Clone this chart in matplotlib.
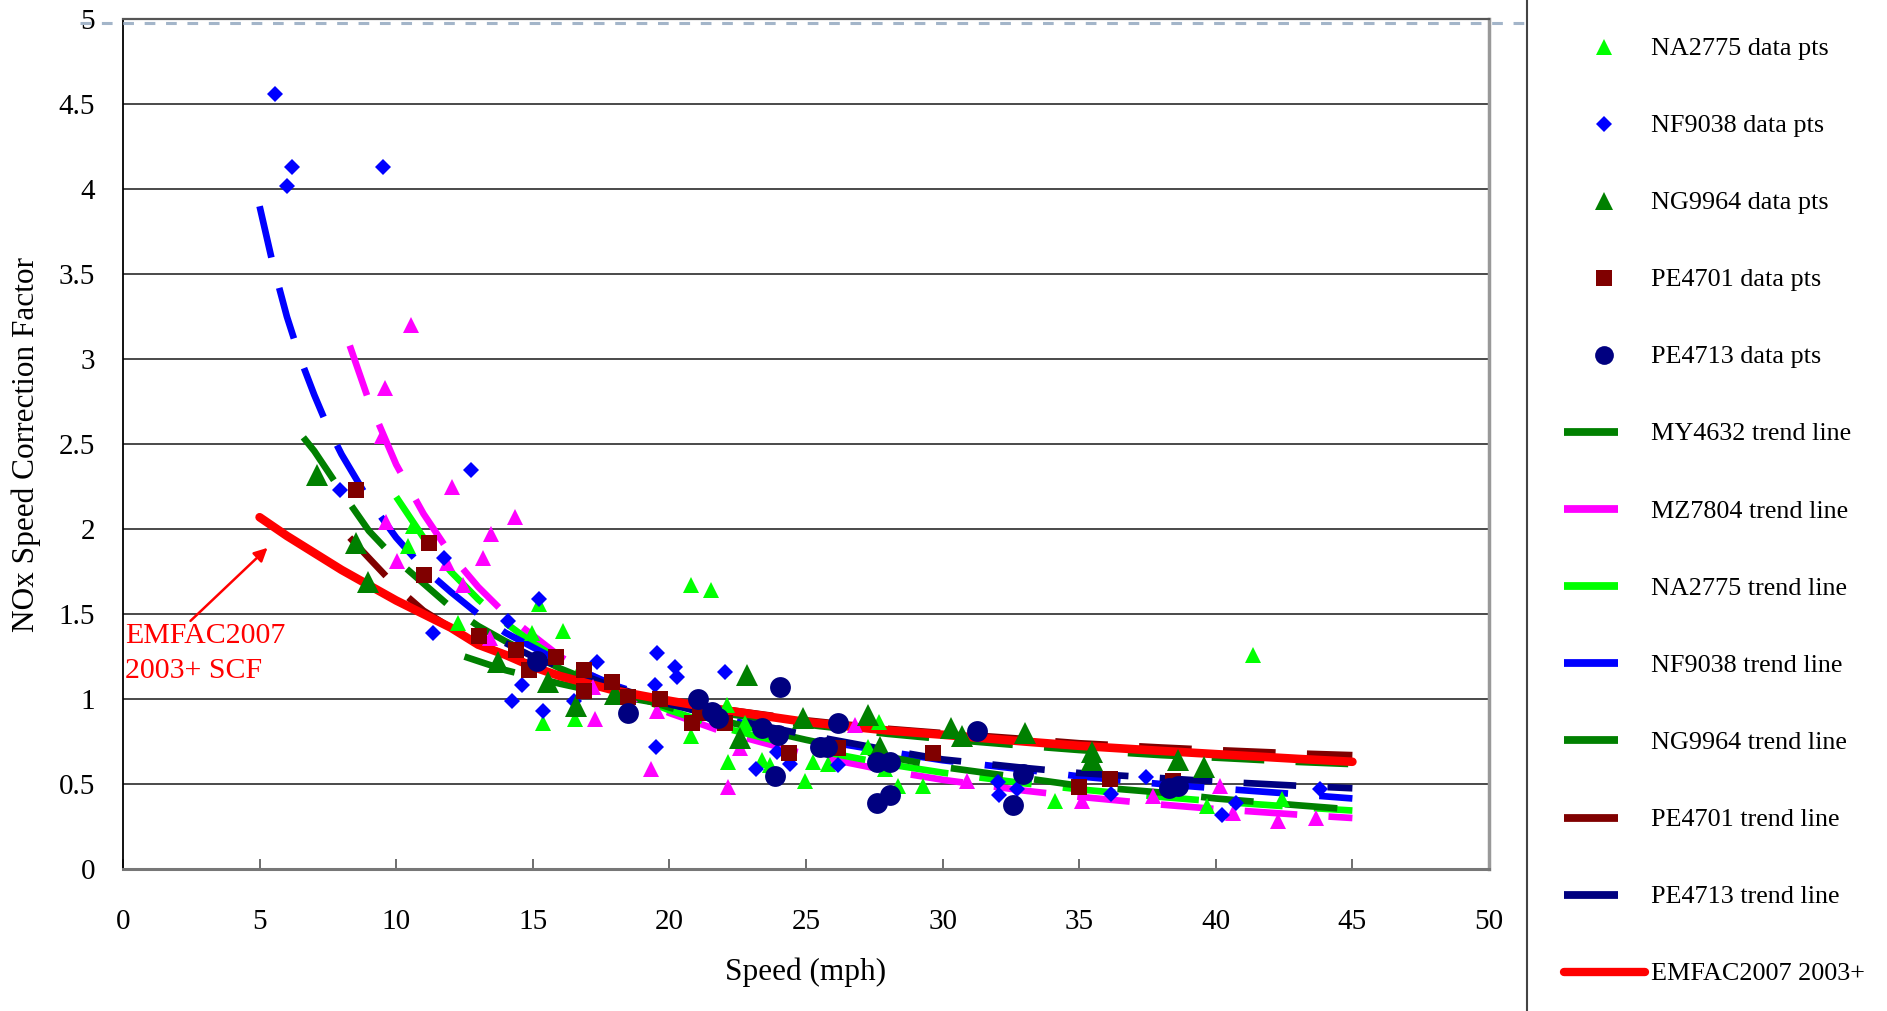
import matplotlib
matplotlib.use("Agg")
import matplotlib.pyplot as plt
from matplotlib.lines import Line2D

plt.rcParams['font.family'] = ['Liberation Serif', 'DejaVu Serif']

# ---------------- data ----------------
na2775_x = [10.44, 10.6, 12.27, 14.96, 15.24, 15.38, 16.1, 16.54, 20.78, 20.78, 21.52, 22.1, 22.16,
            22.77, 23.38, 23.68, 24.96, 25.27, 25.82, 27.26, 27.68, 27.9, 28.35, 29.27, 34.11,
            39.67, 41.35, 42.41]
na2775_y = [1.90, 2.02, 1.445, 1.39, 1.56, 0.86, 1.40, 0.88, 1.67, 0.78, 1.64, 0.965, 0.63,
            0.857, 0.64, 0.61, 0.52, 0.63, 0.62, 0.72, 0.867, 0.59, 0.49, 0.49, 0.40,
            0.37, 1.26, 0.41]

nf9038_x = [5.56, 6.0, 6.2, 7.94, 9.52, 11.34, 11.75, 12.74, 14.08, 14.25, 14.62, 15.24, 15.38,
            16.52, 17.34, 19.47, 19.5, 19.56, 20.2, 20.27, 22.03, 23.17, 23.93, 24.41, 26.18,
            32.04, 32.07, 32.71, 36.15, 37.43, 40.24, 40.73, 43.81]
nf9038_y = [4.56, 4.02, 4.13, 2.23, 4.13, 1.39, 1.83, 2.35, 1.46, 0.99, 1.08, 1.59, 0.93,
            0.99, 1.22, 1.08, 0.72, 1.27, 1.19, 1.13, 1.16, 0.59, 0.69, 0.62, 0.61,
            0.51, 0.435, 0.47, 0.44, 0.54, 0.32, 0.39, 0.47]

ng9964_x = [7.11, 8.53, 8.98, 13.74, 15.57, 16.58, 18.0, 22.58, 22.83, 24.9, 27.28, 27.7, 30.3,
            30.7, 33.0, 35.46, 35.46, 38.63, 39.55]
ng9964_y = [2.32, 1.92, 1.69, 1.22, 1.10, 0.96, 1.03, 0.77, 1.14, 0.89, 0.905, 0.72, 0.83,
            0.78, 0.80, 0.69, 0.64, 0.64, 0.60]

pe4701_x = [8.53, 11.03, 11.21, 13.04, 14.39, 14.87, 15.85, 16.88, 16.88, 17.91, 18.5, 19.66,
            20.84, 21.12, 22.03, 24.39, 26.16, 29.66, 35.0, 36.13, 38.44]
pe4701_y = [2.23, 1.73, 1.92, 1.37, 1.29, 1.17, 1.245, 1.17, 1.05, 1.10, 1.01, 1.0,
            0.857, 0.916, 0.857, 0.68, 0.71, 0.68, 0.48, 0.53, 0.52]

pe4713_x = [15.17, 18.47, 21.06, 21.55, 21.79, 23.38, 23.86, 23.99, 24.05, 25.51, 25.76, 26.18,
            27.61, 27.61, 28.08, 28.08, 31.25, 32.56, 32.93, 38.3, 38.63]
pe4713_y = [1.225, 0.92, 1.0, 0.925, 0.886, 0.83, 0.55, 0.79, 1.07, 0.72, 0.72, 0.86,
            0.63, 0.386, 0.63, 0.435, 0.81, 0.376, 0.56, 0.475, 0.49]

mz7804_x = [9.47, 9.6, 9.63, 10.02, 10.53, 11.85, 12.04, 12.43, 13.19, 13.43, 13.47, 14.35, 17.2,
            17.28, 19.32, 19.53, 22.13, 22.58, 26.8, 30.9, 35.1, 37.69, 40.15, 40.64, 42.29, 43.67]
mz7804_y = [2.55, 2.83, 2.04, 1.81, 3.2, 1.80, 2.25, 1.67, 1.83, 1.36, 1.97, 2.07, 1.07,
            0.88, 0.59, 0.93, 0.48, 0.71, 0.85, 0.52, 0.40, 0.43, 0.49, 0.33, 0.28, 0.30]

# trend lines
my4632_tx = [12.5, 14, 16, 18, 20, 22, 25, 28, 30, 33, 35, 38, 40, 43, 45]
my4632_ty = [1.25, 1.17, 1.09, 1.02, 0.965, 0.915, 0.85, 0.795, 0.765, 0.725, 0.70, 0.67, 0.655, 0.63, 0.617]

mz7804_tx = [8.3, 9, 10, 11, 12, 13, 14, 16, 18, 20, 22, 25, 28, 30, 33, 35, 38, 40, 43, 45]
mz7804_ty = [3.08, 2.755, 2.38, 2.09, 1.85, 1.66, 1.50, 1.25, 1.06, 0.918, 0.805, 0.675, 0.578,
             0.525, 0.461, 0.425, 0.379, 0.353, 0.32, 0.30]

na2775_tx = [10, 11, 12, 13, 14, 15, 16, 18, 20, 22, 25, 28, 30, 33, 35, 38, 40, 43, 45]
na2775_ty = [2.19, 1.95, 1.75, 1.587, 1.448, 1.33, 1.229, 1.063, 0.934, 0.83, 0.709, 0.617, 0.567,
             0.504, 0.469, 0.424, 0.398, 0.364, 0.344]

nf9038_tx = [5, 5.5, 6, 6.5, 7, 7.5, 8, 9, 10, 11, 12, 13, 14, 16, 18, 20, 22, 25, 28, 30, 33, 35,
             38, 40, 43, 45]
nf9038_ty = [3.9, 3.55, 3.25, 3.0, 2.79, 2.6, 2.44, 2.17, 1.95, 1.77, 1.63, 1.50, 1.39, 1.22, 1.08,
             0.975, 0.885, 0.77, 0.69, 0.64, 0.585, 0.545, 0.50, 0.475, 0.44, 0.415]

ng9964_tx = [6.6, 7, 8, 9, 10, 11, 12, 13, 14, 16, 18, 20, 22, 25, 28, 30, 33, 35, 38, 40, 43, 45]
ng9964_ty = [2.54, 2.46, 2.22, 1.99, 1.82, 1.68, 1.54, 1.43, 1.34, 1.18, 1.05, 0.95, 0.87, 0.76,
             0.66, 0.60, 0.535, 0.49, 0.45, 0.415, 0.375, 0.35]

pe4701_tx = [8.3, 9, 10, 11, 12, 13, 14, 16, 18, 20, 22, 25, 28, 30, 33, 35, 38, 40, 43, 45]
pe4701_ty = [1.95, 1.83, 1.66, 1.52, 1.42, 1.33, 1.26, 1.14, 1.05, 0.99, 0.94, 0.875, 0.825, 0.80,
             0.765, 0.74, 0.715, 0.70, 0.68, 0.67]

pe4713_tx = [14, 15, 16, 18, 20, 22, 25, 28, 30, 33, 35, 38, 40, 43, 45]
pe4713_ty = [1.33, 1.25, 1.19, 1.07, 0.97, 0.89, 0.79, 0.70, 0.645, 0.595, 0.565, 0.535, 0.515, 0.49, 0.475]

emfac_x = [5, 6, 7, 8, 9, 10, 11, 12, 13, 14, 15, 16, 18, 20, 22, 25, 28, 30, 33, 35, 38, 40, 43, 45]
emfac_y = [2.07, 1.96, 1.86, 1.76, 1.67, 1.58, 1.50, 1.42, 1.32, 1.26, 1.19, 1.135, 1.05, 0.99,
           0.935, 0.865, 0.815, 0.79, 0.75, 0.725, 0.695, 0.676, 0.648, 0.631]

x_ticks = [0, 5, 10, 15, 20, 25, 30, 35, 40, 45, 50]
y_ticks = [0, 0.5, 1, 1.5, 2, 2.5, 3, 3.5, 4, 4.5, 5]
y_tick_labels = ['0', '0.5', '1', '1.5', '2', '2.5', '3', '3.5', '4', '4.5', '5']

# ---------------- colours ----------------
LIME = '#00ff00'
BLUE = '#0000ff'
GREEN = '#008000'
MAROON = '#800000'
NAVY = '#000080'
MAGENTA = '#ff00ff'
RED = '#ff0000'

W, H = 1887, 1011
fig = plt.figure(figsize=(W / 100, H / 100), dpi=100)
ax = fig.add_axes([123 / W, 1 - 869 / H, (1489 - 123) / W, (869 - 19.3) / H])
ax.set_xlim(0, 50)
ax.set_ylim(0, 5)

# grid
for yv in y_ticks[1:]:
    ax.axhline(yv, color='#2a2a2a', lw=1.2, zorder=1)

dash = (0, (7.9, 4.7))
LW = 4.8
trend = [
    (my4632_tx, my4632_ty, GREEN),
    (mz7804_tx, mz7804_ty, MAGENTA),
    (na2775_tx, na2775_ty, LIME),
    (nf9038_tx, nf9038_ty, BLUE),
    (ng9964_tx, ng9964_ty, GREEN),
    (pe4701_tx, pe4701_ty, MAROON),
    (pe4713_tx, pe4713_ty, NAVY),
]
for tx, ty, c in trend:
    ax.plot(tx, ty, color=c, lw=LW, linestyle=dash, dash_capstyle='butt', zorder=2)
ax.plot(emfac_x, emfac_y, color=RED, lw=6.2, solid_capstyle='round', zorder=3)

mk = dict(linestyle='none', markeredgewidth=0, zorder=4)
ax.plot(mz7804_x, mz7804_y, marker='^', ms=12, color=MAGENTA, **mk)
ax.plot(na2775_x, na2775_y, marker='^', ms=12, color=LIME, **mk)
ax.plot(nf9038_x, nf9038_y, marker='D', ms=8.3, color=BLUE, **mk)
ax.plot(ng9964_x, ng9964_y, marker='^', ms=16.5, color=GREEN, **mk)
ax.plot(pe4701_x, pe4701_y, marker='s', ms=11.5, color=MAROON, **mk)
ax.plot(pe4713_x, pe4713_y, marker='o', ms=15, color=NAVY, **mk)

# annotation
ax.annotate('', xy=(5.29, 1.89), xytext=(2.47, 1.46),
            arrowprops=dict(arrowstyle='-|>', color=RED, lw=1.8, mutation_scale=20,
                            shrinkA=0, shrinkB=0), zorder=5)
ax.text(0.07, 1.27, 'EMFAC2007\n2003+ SCF', color=RED, fontsize=21.5, ha='left', va='center',
        linespacing=1.45, zorder=5)

# axes styling
ax.set_xticks(x_ticks)
ax.set_xticklabels([str(v) for v in x_ticks])
ax.set_yticks(y_ticks)
ax.set_yticklabels(y_tick_labels)
ax.tick_params(axis='x', direction='in', length=7, width=1.2, color='#555555', pad=29, labelsize=21)
ax.tick_params(axis='y', length=0, pad=20, labelsize=21)
ax.spines['left'].set_color('black')
ax.spines['left'].set_linewidth(1.3)
ax.spines['bottom'].set_color('#777777')
ax.spines['bottom'].set_linewidth(2.2)
ax.spines['right'].set_color('#999999')
ax.spines['right'].set_linewidth(2.5)
ax.spines['top'].set_color('#555555')
ax.spines['top'].set_linewidth(1.6)

# light dashed line at the top
fig.add_artist(Line2D([80 / W, 1525 / W], [1 - 23.3 / H, 1 - 23.3 / H], transform=fig.transFigure,
                      color='#a3b5c9', lw=2.2, linestyle=(0, (3.5, 3.5))))

fig.text(26 / W, 1 - 444 / H, 'NOx Speed Correction Factor', rotation=90, ha='center', va='center',
         fontsize=22.5)
fig.text(806 / W, 1 - 972 / H, 'Speed (mph)', ha='center', va='center', fontsize=22.5)

# ---------------- legend panel ----------------
lg = fig.add_axes([1527 / W, 0, (W - 1527) / W, 1])
lg.set_xlim(1527, W)
lg.set_ylim(H, 0)
for s in ['top', 'right', 'bottom']:
    lg.spines[s].set_visible(False)
lg.spines['left'].set_color('#444444')
lg.spines['left'].set_linewidth(1.5)
lg.set_xticks([])
lg.set_yticks([])
lg.patch.set_alpha(0)

entries = [
    ('NA2775 data pts', 'm', dict(marker='^', ms=11.5, color=LIME)),
    ('NF9038 data pts', 'm', dict(marker='D', ms=8, color=BLUE)),
    ('NG9964 data pts', 'm', dict(marker='^', ms=13.5, color=GREEN)),
    ('PE4701 data pts', 'm', dict(marker='s', ms=11.5, color=MAROON)),
    ('PE4713 data pts', 'm', dict(marker='o', ms=13.5, color=NAVY)),
    ('MY4632 trend line', 'l', GREEN),
    ('MZ7804 trend line', 'l', MAGENTA),
    ('NA2775 trend line', 'l', LIME),
    ('NF9038 trend line', 'l', BLUE),
    ('NG9964 trend line', 'l', GREEN),
    ('PE4701 trend line', 'l', MAROON),
    ('PE4713 trend line', 'l', NAVY),
    ('EMFAC2007 2003+', 'r', RED),
]
y0, step = 46.5, 77.1
for i, (lab, kind, st) in enumerate(entries):
    yy = y0 + i * step
    if kind == 'm':
        lg.plot([1604], [yy], linestyle='none', markeredgewidth=0, clip_on=False, **st)
    elif kind == 'l':
        lg.plot([1564, 1618], [yy, yy], color=st, lw=5.6, solid_capstyle='butt', clip_on=False)
    else:
        lg.plot([1564, 1645], [yy, yy], color=st, lw=6, solid_capstyle='round', clip_on=False)
    lg.text(1651, yy + 8.5, lab, fontsize=18.8, ha='left', va='baseline')

fig.savefig('out.png', dpi=100)
